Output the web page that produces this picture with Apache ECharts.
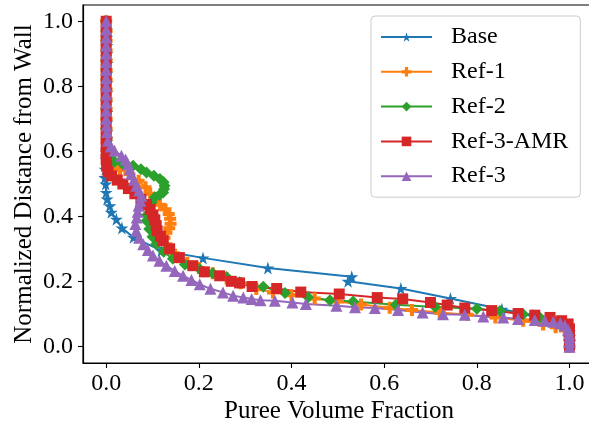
<!DOCTYPE html>
<html>
<head>
<meta charset="utf-8">
<script src="https://cdn.jsdelivr.net/npm/echarts@6/dist/echarts.min.js"></script>
<style>
html,body{margin:0;padding:0;background:#fff;}
#c{width:589px;height:423px;}
</style>
</head>
<body>
<div id="c"></div>
<script>
const seriesNames = ['Base', 'Ref-1', 'Ref-2', 'Ref-3-AMR', 'Ref-3'];
const xTicks = [0, 0.2, 0.4, 0.6, 0.8, 1.0];
const yTicks = [0, 0.2, 0.4, 0.6, 0.8, 1.0];

const base = [
  [0.000,1.000],[0.001,0.975],[0.001,0.950],[0.002,0.925],[0.002,0.900],[0.002,0.870],[0.002,0.840],
  [0.002,0.810],[0.002,0.780],[0.002,0.750],[0.002,0.720],[0.002,0.690],[0.002,0.660],[0.002,0.630],
  [0.001,0.600],[0.000,0.575],[-0.002,0.545],[-0.003,0.520],[-0.001,0.500],[0.000,0.474],[0.002,0.454],
  [0.008,0.433],[0.011,0.413],[0.022,0.392],[0.034,0.365],[0.059,0.336],[0.119,0.295],[0.209,0.273],
  [0.349,0.242],[0.530,0.215],[0.522,0.201],[0.636,0.179],[0.743,0.148],[0.854,0.115],[0.920,0.097],
  [0.960,0.086],[0.985,0.075],[0.995,0.060],[0.999,0.045],[1.000,0.030],[1.000,0.015],[1.000,0.000]
];
const ref1 = [
  [0.000,1.000],[0.001,0.970],[0.001,0.940],[0.001,0.910],[0.001,0.880],[0.001,0.850],[0.001,0.820],
  [0.001,0.790],[0.001,0.760],[0.001,0.730],[0.001,0.700],[0.001,0.670],[0.001,0.640],[0.002,0.610],
  [0.005,0.580],[0.015,0.560],[0.030,0.545],[0.050,0.530],[0.070,0.510],[0.085,0.490],[0.095,0.470],
  [0.105,0.450],[0.116,0.436],[0.128,0.422],[0.135,0.408],[0.138,0.393],[0.139,0.378],[0.136,0.364],
  [0.130,0.350],[0.126,0.335],[0.130,0.315],[0.140,0.295],[0.155,0.275],[0.175,0.258],[0.200,0.242],
  [0.230,0.226],[0.260,0.210],[0.290,0.195],[0.324,0.177],[0.360,0.167],[0.400,0.158],[0.450,0.148],
  [0.500,0.139],[0.550,0.130],[0.612,0.120],[0.660,0.113],[0.720,0.105],[0.780,0.098],[0.840,0.090],
  [0.900,0.080],[0.943,0.068],[0.970,0.060],[0.990,0.050],[0.999,0.035],[1.000,0.020],[1.000,0.000]
];
const ref2 = [
  [0.000,1.000],[0.000,0.970],[0.000,0.940],[0.000,0.910],[0.000,0.880],[0.000,0.850],[0.000,0.820],
  [0.000,0.790],[0.000,0.760],[0.000,0.730],[0.000,0.700],[0.000,0.670],[0.001,0.640],[0.002,0.615],
  [0.005,0.595],[0.010,0.580],[0.018,0.568],[0.035,0.562],[0.058,0.556],[0.075,0.545],[0.087,0.535],
  [0.103,0.525],[0.116,0.515],[0.124,0.505],[0.126,0.495],[0.125,0.485],[0.123,0.474],[0.115,0.466],
  [0.105,0.459],[0.098,0.443],[0.092,0.425],[0.088,0.405],[0.087,0.387],[0.093,0.362],[0.100,0.338],
  [0.108,0.316],[0.124,0.292],[0.144,0.270],[0.170,0.253],[0.202,0.239],[0.230,0.226],[0.260,0.214],
  [0.288,0.198],[0.339,0.184],[0.386,0.165],[0.436,0.152],[0.483,0.143],[0.533,0.139],[0.625,0.129],
  [0.710,0.122],[0.800,0.117],[0.850,0.110],[0.900,0.100],[0.936,0.090],[0.965,0.082],[0.985,0.075],
  [0.995,0.065],[1.000,0.050],[1.000,0.035],[1.000,0.020],[1.000,0.000]
];
const ref3amr = [
  [0.000,1.000],[0.000,0.970],[0.000,0.940],[0.000,0.910],[0.000,0.880],[0.000,0.850],[0.000,0.820],
  [0.000,0.790],[0.000,0.760],[0.000,0.730],[0.000,0.700],[0.000,0.670],[0.000,0.640],[0.000,0.615],
  [0.000,0.595],[0.000,0.575],[0.001,0.555],[0.004,0.538],[0.012,0.525],[0.024,0.512],[0.036,0.500],
  [0.048,0.486],[0.062,0.470],[0.075,0.453],[0.087,0.437],[0.095,0.422],[0.101,0.405],[0.105,0.390],
  [0.108,0.372],[0.110,0.356],[0.117,0.340],[0.123,0.326],[0.137,0.301],[0.158,0.274],[0.187,0.249],
  [0.212,0.230],[0.245,0.218],[0.270,0.201],[0.288,0.196],[0.315,0.185],[0.368,0.179],[0.420,0.168],
  [0.503,0.162],[0.585,0.151],[0.640,0.147],[0.700,0.136],[0.736,0.128],[0.774,0.119],[0.832,0.111],
  [0.889,0.102],[0.925,0.097],[0.958,0.090],[0.983,0.080],[0.997,0.070],[1.000,0.055],[1.000,0.040],
  [1.000,0.025],[1.000,0.010],[1.000,0.000]
];
const ref3 = [
  [0.000,1.000],[0.000,0.975],[0.000,0.950],[0.000,0.925],[0.000,0.900],[0.000,0.875],[0.000,0.850],
  [0.000,0.825],[0.000,0.800],[0.000,0.775],[0.000,0.750],[0.000,0.725],[0.000,0.700],[0.001,0.680],
  [0.002,0.660],[0.004,0.633],[0.010,0.615],[0.018,0.602],[0.033,0.587],[0.042,0.575],[0.047,0.561],
  [0.051,0.545],[0.054,0.531],[0.060,0.513],[0.065,0.495],[0.071,0.480],[0.076,0.464],[0.074,0.448],
  [0.070,0.433],[0.068,0.415],[0.066,0.397],[0.063,0.377],[0.065,0.356],[0.071,0.335],[0.080,0.315],
  [0.090,0.297],[0.101,0.280],[0.115,0.264],[0.130,0.249],[0.148,0.233],[0.166,0.218],[0.184,0.205],
  [0.202,0.192],[0.225,0.178],[0.252,0.167],[0.274,0.157],[0.296,0.151],[0.314,0.147],[0.333,0.143],
  [0.364,0.141],[0.402,0.136],[0.431,0.131],[0.497,0.126],[0.537,0.121],[0.580,0.119],[0.630,0.113],
  [0.683,0.105],[0.727,0.100],[0.774,0.098],[0.814,0.093],[0.857,0.090],[0.889,0.085],[0.925,0.082],
  [0.947,0.080],[0.965,0.077],[0.980,0.072],[0.990,0.065],[0.997,0.052],[0.999,0.040],[1.000,0.028],
  [1.000,0.015],[1.000,0.000]
];

const colors = ['#1f77b4', '#ff7f0e', '#2ca02c', '#d62728', '#9467bd'];
const starPath = 'path://M50,0 L61,35 L98,35 L68,57 L79,91 L50,70 L21,91 L32,57 L2,35 L39,35 Z';
const plusPath = 'path://M33,0 H67 V33 H100 V67 H67 V100 H33 V67 H0 V33 H33 Z';
const symbols = [starPath, plusPath, 'diamond', 'rect', 'triangle'];
const symbolSizes = [13, 12, 12, 11, 12];
const datasets = [base, ref1, ref2, ref3amr, ref3];

const FONT = 'Liberation Serif';
const chart = echarts.init(document.getElementById('c'), null, {renderer: 'canvas'});
chart.setOption({
  animation: false,
  backgroundColor: '#fff',
  textStyle: {fontFamily: FONT},
  grid: {left: 83, right: -6, top: 5, bottom: 60, containLabel: false, outerBoundsMode: 'none',
         show: true, borderColor: '#000', borderWidth: 1.2, backgroundColor: 'transparent'},
  legend: {
    left: 371, top: 16,
    orient: 'vertical',
    data: seriesNames,
    itemWidth: 51, itemHeight: 12,
    itemGap: 10.8,
    padding: [9, 12, 9, 9],
    backgroundColor: 'rgba(255,255,255,0.85)',
    borderColor: '#cccccc', borderWidth: 1, borderRadius: 4,
    textStyle: {fontFamily: FONT, fontSize: 24, color: '#000', lineHeight: 24, padding: [0, 0, 0, 14]}
  },
  xAxis: {
    type: 'value', min: -0.05, max: 1.055,
    name: 'Puree Volume Fraction', nameLocation: 'middle', nameGap: 36, nameMoveOverlap: false,
    nameTextStyle: {fontFamily: FONT, fontSize: 25, color: '#000'},
    axisLine: {show: true, onZero: false, lineStyle: {color: '#000', width: 1.2}},
    axisTick: {show: true, inside: false, length: 5, lineStyle: {color: '#000', width: 1.1}, customValues: xTicks},
    axisLabel: {fontFamily: FONT, fontSize: 24, color: '#000', margin: 9, customValues: xTicks, formatter: v => v.toFixed(1)},
    splitLine: {show: false}
  },
  yAxis: {
    type: 'value', min: -0.05, max: 1.05,
    name: 'Normalized Distance from Wall', nameLocation: 'middle', nameGap: 46, nameMoveOverlap: false,
    nameTextStyle: {fontFamily: FONT, fontSize: 25, color: '#000'},
    axisLine: {show: true, onZero: false, lineStyle: {color: '#000', width: 1.2}},
    axisTick: {show: true, inside: false, length: 5, lineStyle: {color: '#000', width: 1.1}, customValues: yTicks},
    axisLabel: {fontFamily: FONT, fontSize: 24, color: '#000', margin: 10, customValues: yTicks, formatter: v => v.toFixed(1)},
    splitLine: {show: false}
  },
  series: datasets.map((d, i) => ({
    name: seriesNames[i],
    type: 'line',
    data: d,
    symbol: symbols[i],
    symbolSize: symbolSizes[i],
    showAllSymbol: true,
    color: colors[i],
    itemStyle: {color: colors[i], borderWidth: 0},
    lineStyle: {color: colors[i], width: 2},
    clip: true
  }))
});
</script>
</body>
</html>
